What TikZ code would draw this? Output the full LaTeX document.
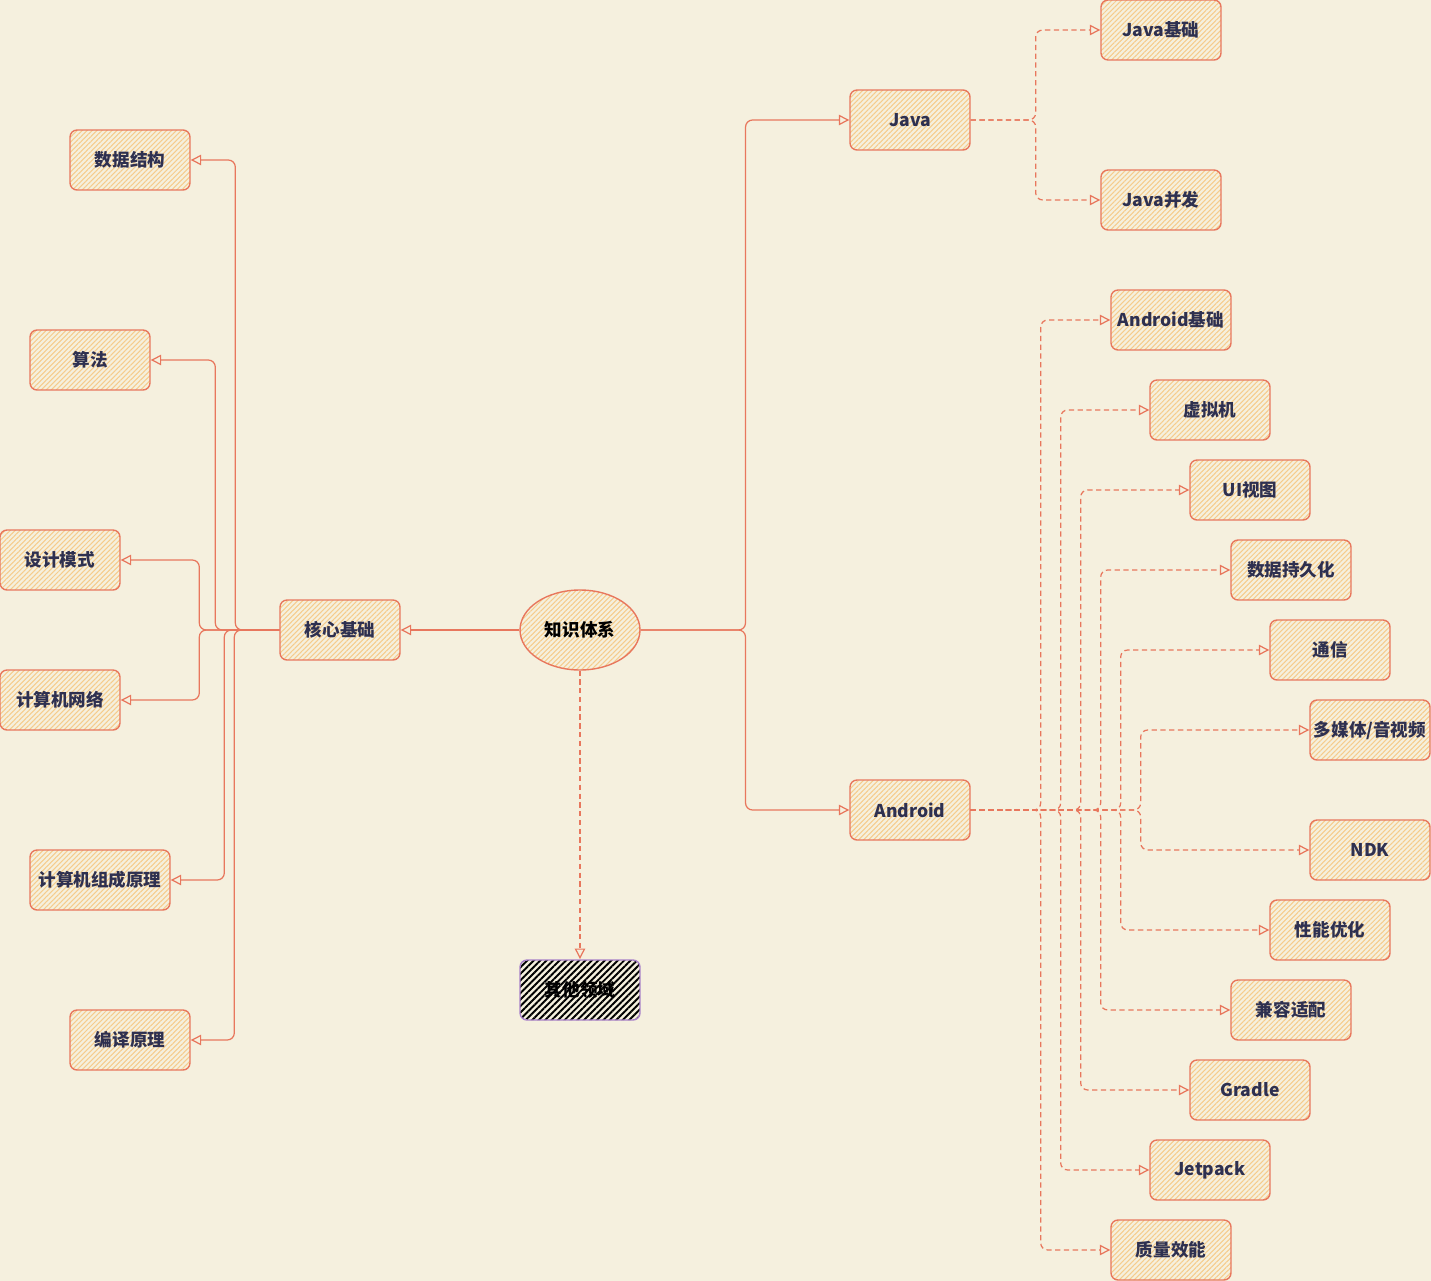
\documentclass[tikz,border=0pt]{standalone}
\usepackage{fontspec}
\setmainfont{Noto Sans CJK SC}
\usetikzlibrary{positioning}
\usetikzlibrary{shapes.geometric, arrows.meta, patterns.meta}
\definecolor{paper}{RGB}{245,240,222}
\definecolor{coral}{RGB}{232,119,93}
\definecolor{hatch}{RGB}{245,204,140}
\definecolor{ink}{RGB}{46,48,80}
\definecolor{lilac}{RGB}{168,128,200}
\tikzstyle{topic} = [rectangle, rounded corners=4pt, minimum width=2.4cm, minimum height=1.2cm, inner sep=2pt, draw=coral, line width=0.8pt, pattern={Lines[angle=45,distance=2pt,line width=0.6pt]}, pattern color=hatch, text=ink, font=\bfseries\fontsize{10}{12}\selectfont]
\tikzstyle{hub} = [ellipse, minimum width=2.4cm, minimum height=1.6cm, draw=coral, line width=0.8pt, pattern={Lines[angle=45,distance=2pt,line width=0.6pt]}, pattern color=hatch, text=black, font=\bfseries\fontsize{10}{12}\selectfont]
\tikzstyle{dark} = [topic, draw=lilac, pattern={Lines[angle=45,distance=2.6pt,line width=1.1pt]}, pattern color=black, text=black]
\tikzstyle{link} = [coral, line width=0.7pt, rounded corners=4pt, -{Triangle[open,length=6pt,width=6pt]}]
\tikzstyle{dlink} = [link, dash pattern=on 3pt off 2pt]

\begin{document}
\begin{tikzpicture}[x=0.02cm,y=-0.02cm]
\fill[paper] (0,0) rectangle (1431,1281);
\useasboundingbox (0,0) rectangle (1431,1281);
% centre
\node[hub] (know) at (580,630) {知识体系};
\node[topic] (core) at (340,630) {核心基础};
\node[dark] (other) at (580,990) {其他领域};
\node[topic] (java) at (910,120) {Java};
\node[topic] (android) at (910,810) {Android};
% left branch
\node[topic] (ds) at (130,160) {数据结构};
\node[topic] (algo) at (90,360) {算法};
\node[topic] (pattern) at (60,560) {设计模式};
\node[topic] (net) at (60,700) {计算机网络};
\node[topic, minimum width=2.8cm] (organ) at (100,880) {计算机组成原理};
\node[topic] (compiler) at (130,1040) {编译原理};
% java branch
\node[topic] (jbase) at (1161,30) {Java基础};
\node[topic] (jconc) at (1161,200) {Java并发};
% android branch
\node[topic] (abase) at (1171,320) {Android基础};
\node[topic] (vm) at (1210,410) {虚拟机};
\node[topic] (ui) at (1250,490) {UI视图};
\node[topic] (store) at (1291,570) {数据持久化};
\node[topic] (ipc) at (1330,650) {通信};
\node[topic] (media) at (1370,730) {多媒体/音视频};
\node[topic] (ndk) at (1370,850) {NDK};
\node[topic] (perf) at (1330,930) {性能优化};
\node[topic] (compat) at (1291,1010) {兼容适配};
\node[topic] (gradle) at (1250,1090) {Gradle};
\node[topic] (jetpack) at (1210,1170) {Jetpack};
\node[topic] (quality) at (1171,1250) {质量效能};
% links
\draw[link] (know.west)--(core.east);
\draw[link] (know.east)--++(105,0) |- (java.west);
\draw[link] (know.east)--++(105,0) |- (android.west);
\draw[dlink] (know.south)--(other.north);
\draw[link] (core.west)--++(-44,0) |- (ds.east);
\draw[link] (core.west)--++(-64,0) |- (algo.east);
\draw[link] (core.west)--++(-80,0) |- (pattern.east);
\draw[link] (core.west)--++(-80,0) |- (net.east);
\draw[link] (core.west)--++(-55,0) |- (organ.east);
\draw[link] (core.west)--++(-45,0) |- (compiler.east);
\draw[dlink] (java.east)--++(65,0) |- (jbase.west);
\draw[dlink] (java.east)--++(65,0) |- (jconc.west);
\draw[dlink] (android.east)--++(70,0) |- (abase.west);
\draw[dlink] (android.east)--++(90,0) |- (vm.west);
\draw[dlink] (android.east)--++(110,0) |- (ui.west);
\draw[dlink] (android.east)--++(130,0) |- (store.west);
\draw[dlink] (android.east)--++(150,0) |- (ipc.west);
\draw[dlink] (android.east)--++(170,0) |- (media.west);
\draw[dlink] (android.east)--++(170,0) |- (ndk.west);
\draw[dlink] (android.east)--++(150,0) |- (perf.west);
\draw[dlink] (android.east)--++(130,0) |- (compat.west);
\draw[dlink] (android.east)--++(110,0) |- (gradle.west);
\draw[dlink] (android.east)--++(90,0) |- (jetpack.west);
\draw[dlink] (android.east)--++(70,0) |- (quality.west);
\end{tikzpicture}
\end{document}
